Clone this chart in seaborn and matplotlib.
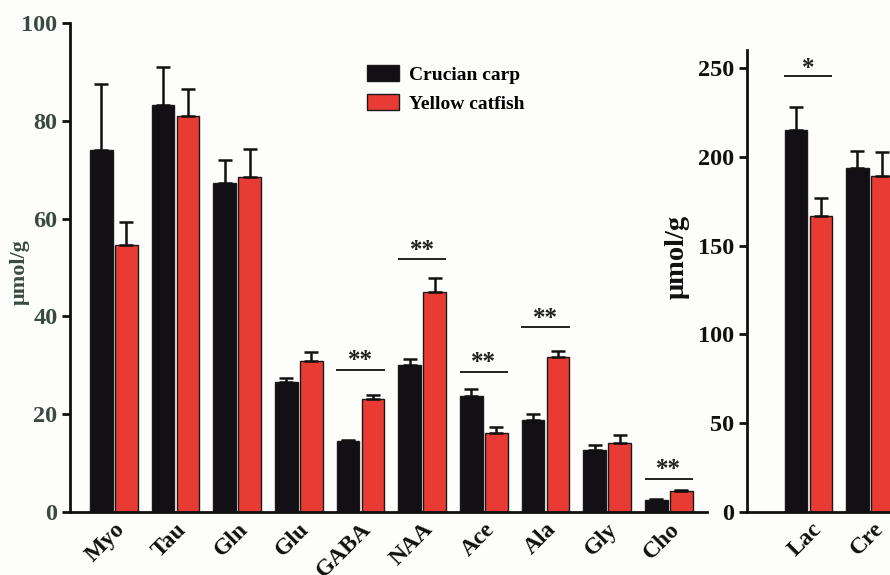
import matplotlib
matplotlib.use("Agg")
import matplotlib.pyplot as plt
import matplotlib.transforms as mtransforms
import seaborn as sns
import pandas as pd
import numpy as np
from matplotlib.patches import Patch

# ---- data (mean, upper SD) ----
species = ["Crucian carp", "Yellow catfish"]

left_metabolites = ["Myo", "Tau", "Gln", "Glu", "GABA", "NAA", "Ace", "Ala", "Gly", "Cho"]
carp_left = [74.1, 83.2, 67.3, 26.5, 14.5, 30.1, 23.7, 18.9, 12.7, 2.4]
carp_left_err = [13.5, 7.8, 4.7, 1.0, 0.2, 1.2, 1.4, 1.1, 0.9, 0.2]
catfish_left = [54.7, 80.9, 68.5, 30.9, 23.1, 44.9, 16.2, 31.7, 14.1, 4.2]
catfish_left_err = [4.7, 5.7, 5.7, 1.8, 0.9, 3.0, 1.2, 1.3, 1.6, 0.2]
# significance markers: (metabolite, label, bar height)
left_sig = [("GABA", "**", 29.1), ("NAA", "**", 51.7), ("Ace", "**", 28.7),
            ("Ala", "**", 37.8), ("Cho", "**", 6.8)]

right_metabolites = ["Lac", "Cre"]
carp_right = [215.2, 193.6]
carp_right_err = [13.1, 9.9]
catfish_right = [166.9, 189.3]
catfish_right_err = [10.0, 13.3]
right_sig = [("Lac", "*", 245.7)]

palette = {"Crucian carp": "#121015", "Yellow catfish": "#e83b33"}
tick_grey = "#3b4a40"
serif = ["Liberation Serif", "DejaVu Serif"]

plt.rcParams["font.family"] = serif
plt.rcParams["font.weight"] = "bold"


def long_frame(cats, a, b):
    return pd.DataFrame({
        "metabolite": cats * 2,
        "species": [species[0]] * len(cats) + [species[1]] * len(cats),
        "value": list(a) + list(b),
    })


def draw_panel(ax, cats, a, a_err, b, b_err, sig, ymax, yticks, tick_color,
               star_offset):
    df = long_frame(cats, a, b)
    sns.barplot(data=df, x="metabolite", y="value", hue="species",
                hue_order=species, order=cats, palette=palette, saturation=1,
                errorbar=None, width=0.81, gap=0.1, edgecolor="#1a1a1a",
                linewidth=1.0, legend=False, ax=ax, zorder=2)
    # upper-only error bars at each bar centre
    for cont, errs in zip(ax.containers, [a_err, b_err]):
        xs = [p.get_x() + p.get_width() / 2 for p in cont.patches]
        ys = [p.get_height() for p in cont.patches]
        ax.errorbar(xs, ys, yerr=[np.zeros(len(errs)), errs], fmt="none",
                    ecolor="#111111", elinewidth=1.8, capsize=5.2,
                    capthick=1.8, zorder=3)
    # significance bars
    for name, label, h in sig:
        i = cats.index(name)
        ax.plot([i - 0.39, i + 0.39], [h, h], color="#222222", lw=1.4,
                solid_capstyle="butt", zorder=3)
        ax.annotate(label, xy=(i, h), xytext=(0, star_offset),
                    textcoords="offset points", ha="center", va="center",
                    fontsize=18, fontweight="bold", color="#222222")

    ax.set_ylim(0, ymax)
    ax.set_yticks(yticks)
    ax.set_xlabel("")
    sns.despine(ax=ax)
    for s in ("left", "bottom"):
        ax.spines[s].set_linewidth(2.0)
        ax.spines[s].set_color("#111111")
    ax.tick_params(axis="y", length=6, width=2.0, labelsize=17.5,
                   labelcolor=tick_color, color="#111111", pad=3)
    ax.tick_params(axis="x", length=0, pad=5)
    ax.set_xticks(range(len(cats)))
    ax.set_xticklabels(cats, rotation=45, ha="right", rotation_mode="anchor",
                       fontsize=17, fontweight="bold", color="#111111")
    for lab in ax.get_yticklabels():
        lab.set_fontweight("bold")
    ax.set_facecolor("none")


fig = plt.figure(figsize=(8.9, 5.75), dpi=100, facecolor="#fdfdfb")

ax1 = fig.add_axes([0.0787, 0.1096, 0.7157, 0.8504])
draw_panel(ax1, left_metabolites, carp_left, carp_left_err, catfish_left,
           catfish_left_err, left_sig, 100, [0, 20, 40, 60, 80, 100],
           tick_grey, 6.5)
ax1.set_xlim(-0.71, 9.62)
ax1.set_ylabel("μmol/g", fontsize=16, fontweight="bold", color=tick_grey,
               family=serif)
ax1.yaxis.set_label_coords(-0.064, 0.491)

ax2 = fig.add_axes([0.8393, 0.1101, 0.2487, 0.8030])
draw_panel(ax2, right_metabolites, carp_right, carp_right_err, catfish_right,
           catfish_right_err, right_sig, 260.3, [0, 50, 100, 150, 200, 250],
           "#111111", 5)
ax2.set_xlim(-1.0, 2.6)
ax2.set_ylabel("μmol/g", fontsize=20.5, fontweight="bold", color="#111111",
               family=serif)
ax2.yaxis.set_label_coords(-0.258, 0.552)
shift = mtransforms.ScaledTranslation(2 / 72, 0, fig.dpi_scale_trans)
for lab in ax2.get_xticklabels():
    lab.set_transform(lab.get_transform() + shift)

handles = [Patch(facecolor=palette[s], edgecolor="#1a1a1a", linewidth=1.0)
           for s in species]
fig.legend(handles, species, loc="upper left",
           bbox_to_anchor=(0.393, 0.917), frameon=False,
           handlelength=1.65, handleheight=0.85, handletextpad=0.5,
           labelspacing=0.55, prop={"weight": "bold", "size": 14})

fig.savefig("out.png", dpi=100, facecolor=fig.get_facecolor())
